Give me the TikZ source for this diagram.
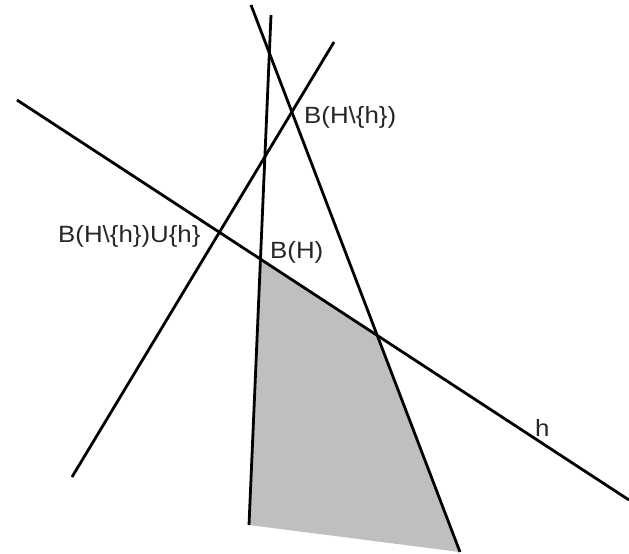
\documentclass[tikz,border=0pt]{standalone}
\usepackage{fontspec}
\setmainfont{Liberation Sans}
\newfontfamily\lblfont[FakeStretch=1.1]{Liberation Sans}
\begin{document}
\begin{tikzpicture}[x=1pt, y=-1pt, lbl/.style={anchor=base west, inner sep=0pt, text=black!85, font=\lblfont\fontsize{23.5}{28}\selectfont}]
    \useasboundingbox (0, 0) rectangle (629, 554);
    \coordinate (H1) at (17, 100);
    \coordinate (H2) at (629, 500);
    \coordinate (P1) at (271, 15);
    \coordinate (P2) at (249, 525);
    \coordinate (Q1) at (251, 5);
    \coordinate (Q2) at (460, 552);
    \coordinate (R1) at (334, 42);
    \coordinate (R2) at (72, 477);
    \coordinate (BH) at (261, 260);
    \coordinate (C) at (377, 336);
    \fill[gray!50] (BH) -- (C) -- (Q2) -- (P2) -- cycle;
    \draw[line width=2.8pt] (H1) -- (H2);
    \draw[line width=2.8pt] (P1) -- (P2);
    \draw[line width=2.8pt] (Q1) -- (Q2);
    \draw[line width=2.8pt] (R1) -- (R2);
    \node[lbl] (lbh) at (304, 123) {B(H\textbackslash\{h\})};
    \node[lbl] (lbu) at (58, 242) {B(H\textbackslash\{h\})U\{h\}};
    \node[lbl] (lb) at (270, 258) {B(H)};
    \node[lbl] (lh) at (535, 436) {h};
\end{tikzpicture}
\end{document}
